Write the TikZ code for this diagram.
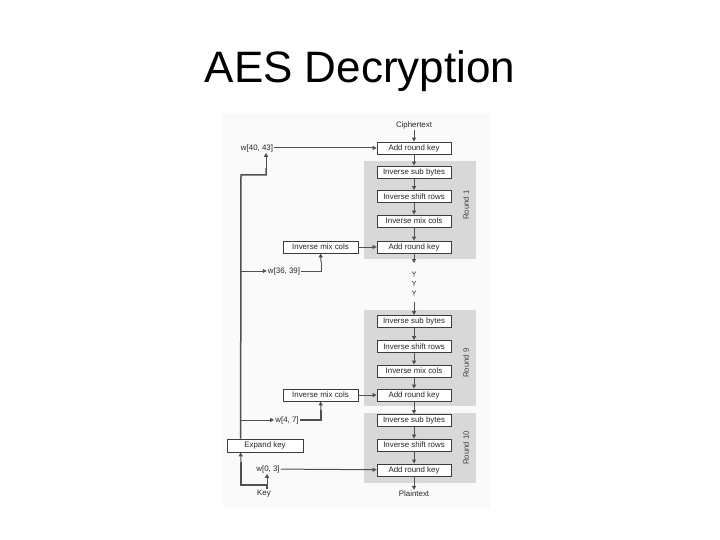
\documentclass[tikz,border=0pt]{standalone}
\usepackage{fontspec}
\setmainfont{Liberation Sans}
\usetikzlibrary{arrows.meta,calc}
\definecolor{ln}{HTML}{505050}
\definecolor{bx}{HTML}{3C3C3C}
\definecolor{rg}{HTML}{D8D8D8}
\tikzset{
  box/.style={draw=bx,line width=0.8pt,fill=white,minimum width=74pt,minimum height=12pt,inner sep=0pt,font=\fontsize{7.9}{8}\selectfont,text=black!85},
  lbl/.style={inner sep=1pt,font=\fontsize{7.9}{8}\selectfont,text=black!85},
  arr/.style={draw=ln,line width=1pt,-{Triangle[length=4pt,width=4pt]}},
  ln/.style={draw=ln,line width=1pt},
  trunk/.style={draw=ln,line width=1.5pt},
  rnd/.style={rotate=90,font=\fontsize{7.8}{8}\selectfont,text=black!75,inner sep=0pt},
}
\begin{document}
\begin{tikzpicture}[x=1pt,y=-1pt]
\useasboundingbox (0,0) rectangle (720,540);
\node[anchor=base,font=\fontsize{44}{50}\selectfont] (title) at (360,83) {AES Decryption};
\fill[black!2] (223,113) rectangle (490,508);
% round regions
\fill[rg] (364,161) rectangle (476,259);
\fill[rg] (364,310) rectangle (476,406);
\fill[rg] (364,413) rectangle (476,483);
\node[rnd] (r1) at (466,205) {Round 1};
\node[rnd] (r9) at (466,363) {Round 9};
\node[rnd] (r10) at (466,448) {Round 10};
% main column
\node[lbl] (ct) at (414,125) {Ciphertext};
\node[box] (ark0) at (414,148) {Add round key};
\node[box] (isb1) at (414,172) {Inverse sub bytes};
\node[box] (isr1) at (414,196.5) {Inverse shift rows};
\node[box] (imc1) at (414,221) {Inverse mix cols};
\node[box] (ark1) at (414,247) {Add round key};
\node[box] (isb9) at (414,321.5) {Inverse sub bytes};
\node[box] (isr9) at (414,346.5) {Inverse shift rows};
\node[box] (imc9) at (414,371) {Inverse mix cols};
\node[box] (ark9) at (414,395) {Add round key};
\node[box] (isb10) at (414,420.5) {Inverse sub bytes};
\node[box] (isr10) at (414,445) {Inverse shift rows};
\node[box] (ark10) at (414,470) {Add round key};
\node[lbl] (pt) at (414,494) {Plaintext};
% left column
\node[box,minimum width=75pt] (limc1) at (320.5,247) {Inverse mix cols};
\node[box,minimum width=75pt] (limc9) at (320.5,395) {Inverse mix cols};
\node[box,minimum width=76pt,minimum height=13pt] (exp) at (265,445.5) {Expand key};
\node[lbl] (key) at (264,494) {Key};
\node[lbl] (w40) at (257,148) {w[40, 43]};
\node[lbl] (w36) at (284,271) {w[36, 39]};
\node[lbl] (w4) at (287,420) {w[4, 7]};
\node[lbl] (w0) at (268,469) {w[0, 3]};
% dots
\foreach \yy in {274,283.5,293}{
  \draw[ln,line width=0.6pt] (412,\yy-2.5) -- (414,\yy) -- (416,\yy-2.5) (414,\yy) -- (414,\yy+2.5);
}
\coordinate (d1) at (414,263);
\coordinate (d2) at (414,302);
% main arrows
\draw[arr] (ct) -- (ark0);
\draw[arr] (ark0) -- (isb1);
\draw[arr] (isb1) -- (isr1);
\draw[arr] (isr1) -- (imc1);
\draw[arr] (imc1) -- (ark1);
\draw[arr] (ark1) -- (d1);
\draw[arr] (d2) -- (isb9);
\draw[arr] (isb9) -- (isr9);
\draw[arr] (isr9) -- (imc9);
\draw[arr] (imc9) -- (ark9);
\draw[arr] (ark9) -- (isb10);
\draw[arr] (isb10) -- (isr10);
\draw[arr] (isr10) -- (ark10);
\draw[arr] (ark10) -- (pt);
\draw[arr] (limc1) -- (ark1);
\draw[arr] (limc9) -- (ark9);
\draw[arr] (w40) -- (ark0);
\draw[arr] (w0) -- (ark10);
% key schedule
\coordinate (ex) at ($(exp.north west)+(14,0)$);
\coordinate (exb) at ($(exp.south west)+(14,0)$);
\coordinate (jk) at (267,485);
\coordinate (top) at (241,175);
\coordinate (t2) at (266,175);
\draw[trunk] (ex) -- (top) -- (t2) -- (266,168);
\draw[arr] (266,168) -- (t2 |- w40.south);
\draw[arr] (241,271) -- (w36.west);
\draw[arr] (241,420) -- (w4.west);
\draw[ln] (w36.east) -| (321,262);
\draw[arr] (321,262) -- (limc1.south);
\draw[trunk] (w4.east) -| (321,410);
\draw[arr] (321,410) -- (limc9.south);
\draw[trunk] (jk |- key.north) -- (jk) -| (241,462);
\draw[arr] (241,462) -- (exb);
\draw[arr] (jk) -- (jk |- w0.south);
\end{tikzpicture}
\end{document}
